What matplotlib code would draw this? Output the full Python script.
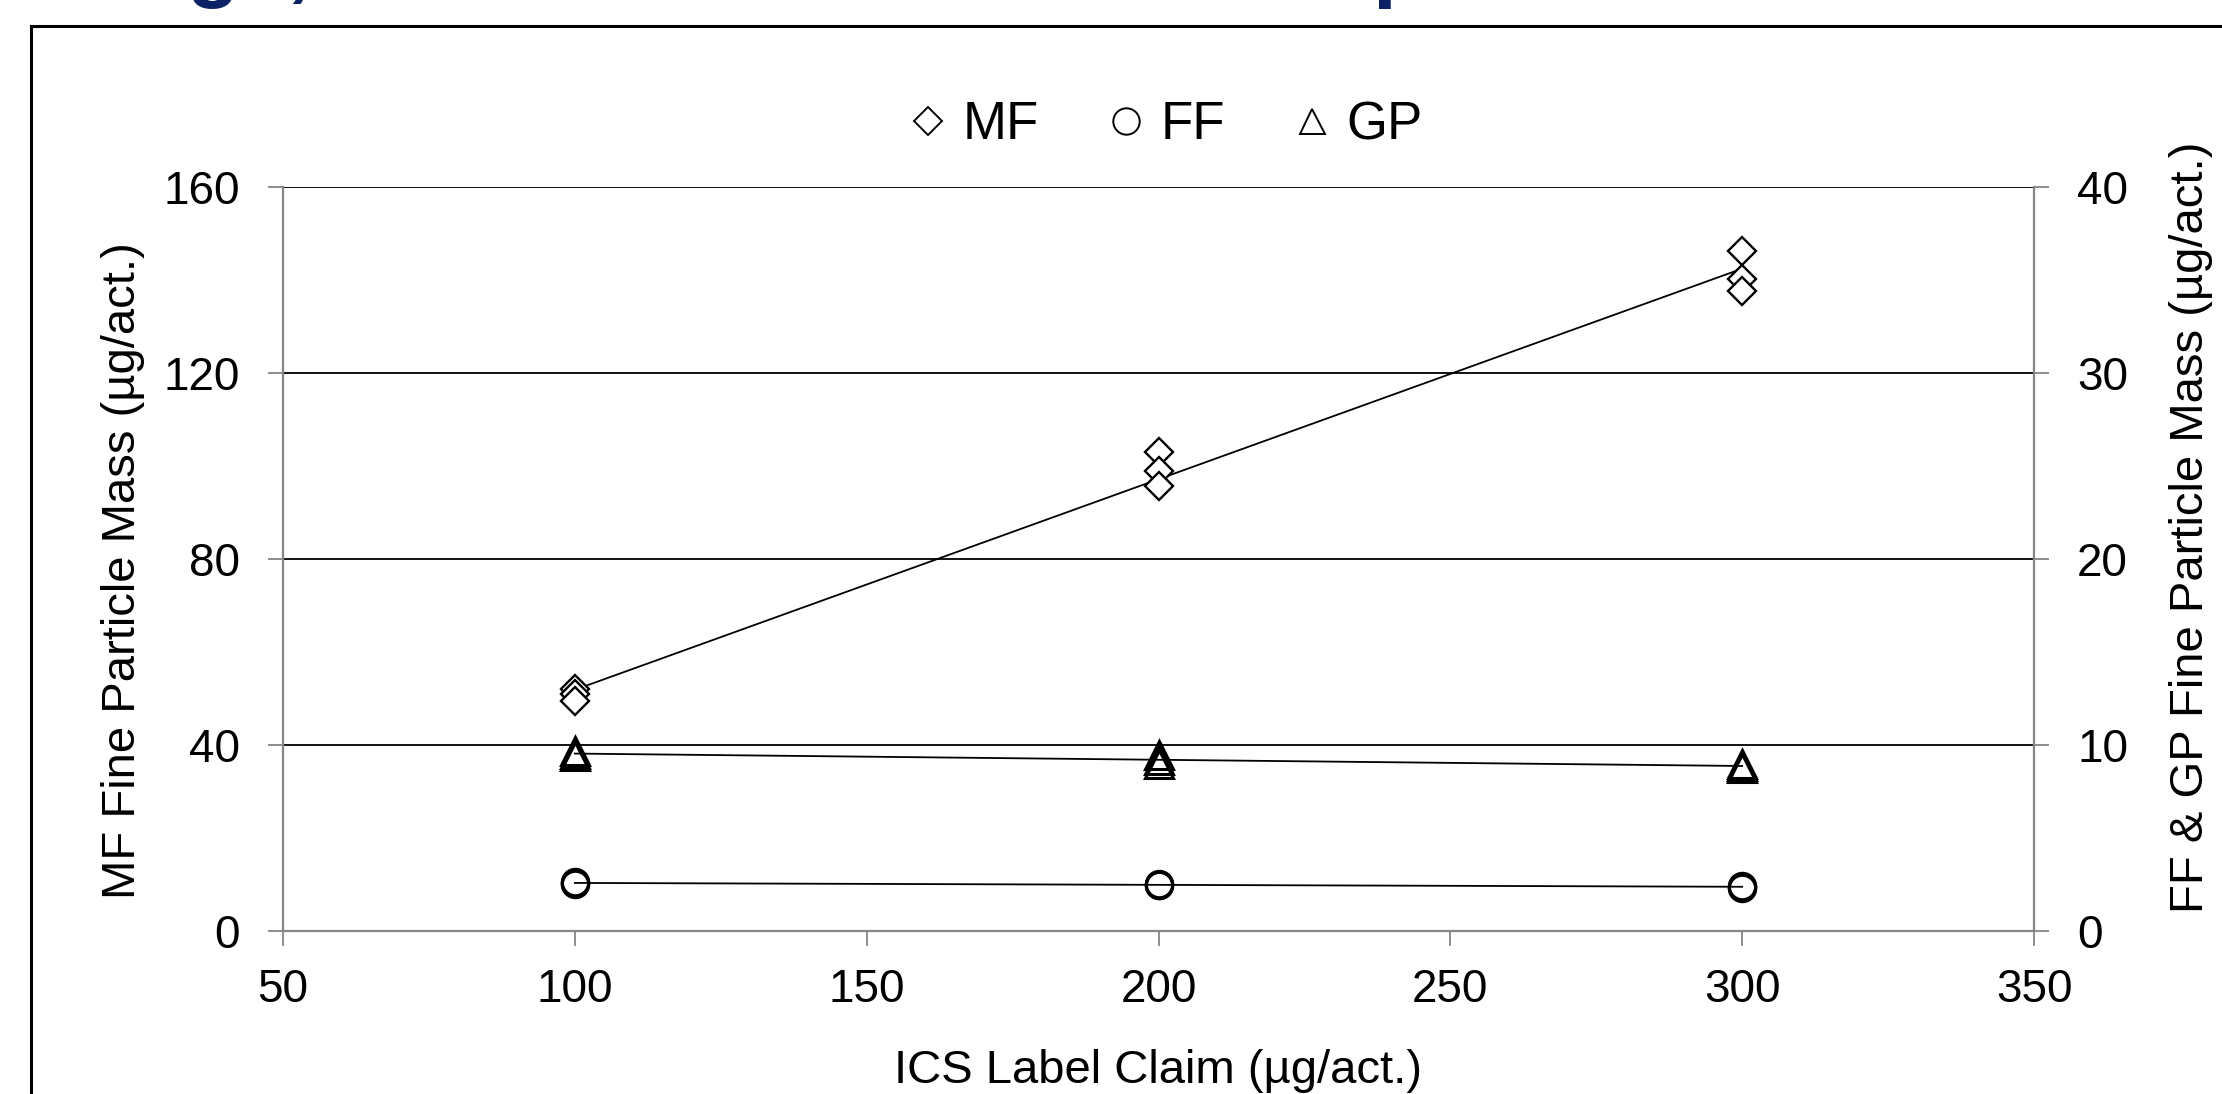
import numpy as np
import matplotlib
matplotlib.use("Agg")
import matplotlib.pyplot as plt
from matplotlib.patches import Rectangle

plt.rcParams['font.family'] = ['Liberation Sans', 'DejaVu Sans']

# ICS label claim (ug/act.) for each replicate
claim = [100, 100, 100, 200, 200, 200, 300, 300, 300]
# fine particle mass per replicate
mf = [52.0, 51.0, 49.5, 103.0, 99.0, 95.7, 146.3, 140.2, 137.7]
ff = [2.62, 2.58, 2.55, 2.52, 2.48, 2.45, 2.42, 2.38, 2.33]
gp = [9.70, 9.50, 9.40, 9.45, 9.20, 9.00, 9.00, 8.85, 8.75]

left_ticks = [0, 40, 80, 120, 160]
right_ticks = [0, 10, 20, 30, 40]
x_ticks = [50, 100, 150, 200, 250, 300, 350]

grey = '#868686'
navy = '#0b2265'
fs = 33
lfs = 34

fig = plt.figure(figsize=(22.22, 10.94), dpi=100)

# chart frame (runs off the right/bottom edge)
fig.patches.append(Rectangle((31 / 2222, -0.1), 1.2, 1 - 26 / 1094 + 0.1,
                             transform=fig.transFigure, fill=False,
                             edgecolor='black', linewidth=2.2))

# bits of the slide title cut off at the top
ty = 1 + 9 / 1094
fig.text(186 / 2222, ty, "g", color=navy, fontsize=62,
         fontweight='bold', va='baseline', ha='left')
fig.text(286 / 2222, ty, ",", color=navy, fontsize=62,
         fontweight='bold', va='baseline', ha='left')
fig.text(1372 / 2222, ty, "p", color=navy, fontsize=62,
         fontweight='bold', va='baseline', ha='left')

ax = fig.add_axes([283 / 2222, 1 - 931 / 1094, (2034 - 283) / 2222, (931 - 187) / 1094])
ax2 = ax.twinx()

x = np.array(claim)
xs = np.array([100, 300])

# MF on left axis
ax.plot(claim, mf, linestyle='none', marker='D', markersize=14.5,
        markerfacecolor='white', markeredgecolor='black', markeredgewidth=1.7,
        zorder=4)
p = np.polyfit(x, mf, 1)
ax.plot(xs, np.polyval(p, xs), color='black', linewidth=1.3, zorder=3)

# FF & GP on right axis
ax2.plot(claim, ff, linestyle='none', marker='o', markersize=19,
         markerfacecolor='none', markeredgecolor='black', markeredgewidth=2.2,
         zorder=4)
p = np.polyfit(x, ff, 1)
ax2.plot(xs, np.polyval(p, xs), color='black', linewidth=1.3, zorder=3)

ax2.plot(claim, gp, linestyle='none', marker='^', markersize=20,
         markerfacecolor='none', markeredgecolor='black', markeredgewidth=2.2,
         zorder=4)
p = np.polyfit(x, gp, 1)
ax2.plot(xs, np.polyval(p, xs), color='black', linewidth=1.3, zorder=3)

ax.set_xlim(50, 350)
ax.set_ylim(0, 160)
ax2.set_ylim(0, 40)
ax.set_xticks(x_ticks)
ax.set_yticks(left_ticks)
ax2.set_yticks(right_ticks)

for g in left_ticks[1:]:
    ax.axhline(g, color='black', linewidth=1.3, zorder=1)

for a in (ax, ax2):
    a.spines['top'].set_visible(False)
    for s in a.spines.values():
        s.set_color(grey)
        s.set_linewidth(1.6)
    a.tick_params(direction='out', length=11, width=1.3, color=grey,
                  labelsize=fs, pad=20)
ax2.spines['left'].set_visible(False)
ax2.spines['bottom'].set_visible(False)
ax.spines['right'].set_visible(False)
ax.tick_params(axis='x', pad=16)

ax.set_xlabel("ICS Label Claim (µg/act.)", fontsize=lfs, labelpad=26)
ax.set_ylabel("MF Fine Particle Mass (µg/act.)", fontsize=lfs)
ax2.set_ylabel("FF & GP Fine Particle Mass (µg/act.)", fontsize=lfs)
ax.yaxis.set_label_coords(-0.079, 0.485)
ax2.yaxis.set_label_coords(1.077, 0.543)

# legend
h1 = plt.Line2D([], [], linestyle='none', marker='D', markersize=14,
                markerfacecolor='white', markeredgecolor='black', markeredgewidth=1.4)
h2 = plt.Line2D([], [], linestyle='none', marker='o', markersize=19,
                markerfacecolor='white', markeredgecolor='black', markeredgewidth=1.4)
h3 = plt.Line2D([], [], linestyle='none', marker='^', markersize=18,
                markerfacecolor='white', markeredgecolor='black', markeredgewidth=1.4)
fig.legend([h1, h2, h3], ["MF", "FF", "GP"], loc='center',
           bbox_to_anchor=(1166 / 2222, 1 - 125 / 1094), ncol=3, frameon=False,
           fontsize=38, handlelength=0.7, handletextpad=0.3, columnspacing=1.3)

fig.savefig("out.png", dpi=100)
